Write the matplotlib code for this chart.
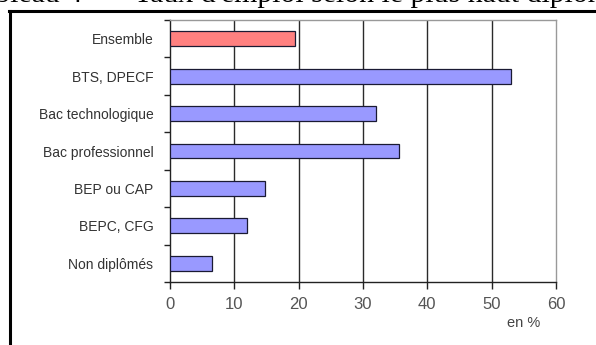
import numpy as np
import matplotlib
matplotlib.use("Agg")
from matplotlib import pyplot
from matplotlib.lines import Line2D

categories = ["Ensemble", "BTS, DPECF", "Bac technologique", "Bac professionnel",
              "BEP ou CAP", "BEPC, CFG", "Non diplômés"]
values = [19.5, 53.0, 32.0, 35.6, 14.7, 12.0, 6.6]
bar_colors = ["#ff8080"] + ["#9999ff"] * 6
xticks = [0, 10, 20, 30, 40, 50, 60]

W, H = 596, 345
fig = pyplot.figure(figsize=(W / 100, H / 100), dpi=100)
fig.patch.set_facecolor("white")

# outer frame (only top and left edges visible) and the clipped caption above it
fig.add_artist(Line2D([9 / W, 1], [1 - 10.5 / H, 1 - 10.5 / H], color="black", lw=2.2,
                      transform=fig.transFigure))
fig.add_artist(Line2D([9.5 / W, 9.5 / W], [0, 1 - 10.5 / H], color="black", lw=2.2,
                      transform=fig.transFigure))
fig.text(100 / W, 1 - 2.5 / H, "Tableau 4 -", family="Liberation Serif", fontsize=21.5,
         ha="right", va="baseline")
fig.text(134 / W, 1 - 2.5 / H, "Taux d'emploi selon le plus haut diplôme",
         family="Liberation Serif", fontsize=21.5, ha="left", va="baseline")

x0, x1, y0, y1 = 170, 556, 20, 282
ax = fig.add_axes([x0 / W, 1 - y1 / H, (x1 - x0) / W, (y1 - y0) / H])

pos = np.arange(len(categories))
ax.barh(pos, values, height=0.4, color=bar_colors, edgecolor="#1a1a33", linewidth=0.9, zorder=3)

ax.set_xlim(0, 60)
ax.set_ylim(len(categories) - 0.5, -0.5)
ax.set_xticks(xticks)
ax.set_xticklabels([str(t) for t in xticks], fontsize=12, color="#555555",
                   family="Liberation Sans")
ax.tick_params(axis="x", length=5, width=1, color="#222222", pad=6)
for t in xticks[1:-1]:
    ax.axvline(t, color="#2a2a2a", lw=1, zorder=1)

ax.set_yticks(pos)
ax.set_yticklabels(categories, fontsize=10, color="#333333", family="Liberation Sans")
ax.set_yticks(np.arange(len(categories) + 1) - 0.5, minor=True)
ax.tick_params(axis="y", which="major", length=0, pad=12)
ax.tick_params(axis="y", which="minor", length=4, width=1, color="#222222")

for side in ["top", "right"]:
    ax.spines[side].set_color("#999999")
    ax.spines[side].set_linewidth(1)
for side in ["left", "bottom"]:
    ax.spines[side].set_color("#222222")
    ax.spines[side].set_linewidth(1)

fig.text(524 / W, 1 - 323 / H, "en %", fontsize=10.5, color="#444444",
         family="Liberation Sans", ha="center", va="center")

pyplot.savefig("out.png", dpi=100)
